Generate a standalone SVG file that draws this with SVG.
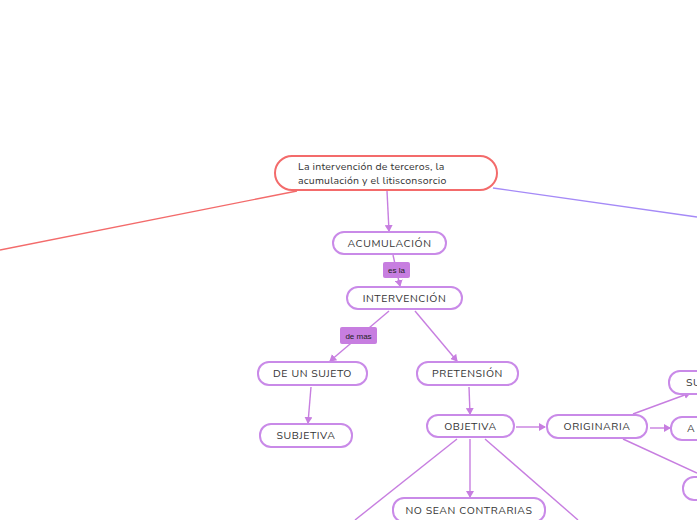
<svg xmlns="http://www.w3.org/2000/svg" width="697" height="520" viewBox="0 0 697 520">
<style>
.n{fill:#fff;stroke:#c98ae8;stroke-width:2}
.t{font-family:"Nunito","Liberation Sans",sans-serif;font-size:10.5px;fill:#333;letter-spacing:0.6px;text-anchor:middle}
.c{stroke:#c77ee0;stroke-width:1.4;fill:none}
.lb{fill:#c77ee0}
.lt{font-family:"Liberation Sans",sans-serif;font-size:8px;fill:#222;text-anchor:middle}
</style>
<defs><marker id="a" markerWidth="8" markerHeight="8" refX="6" refY="4" orient="auto" markerUnits="userSpaceOnUse"><path d="M0,0 L7,4 L0,8 Z" fill="#c77ee0"/></marker></defs>
<rect width="697" height="520" fill="#fff"/>
<g id="connectors">
<line x1="297" y1="191" x2="0" y2="250" stroke="#f36b6b" stroke-width="1.4"/>
<line x1="493" y1="188" x2="697" y2="217" stroke="#a58af7" stroke-width="1.4"/>
<line class="c" x1="387" y1="191" x2="389" y2="231" marker-end="url(#a)"/>
<line class="c" x1="393" y1="255" x2="400" y2="286" marker-end="url(#a)"/>
<line class="c" x1="389" y1="311" x2="330" y2="361" marker-end="url(#a)"/>
<line class="c" x1="415" y1="311" x2="457" y2="361" marker-end="url(#a)"/>
<line class="c" x1="311" y1="387" x2="308" y2="423" marker-end="url(#a)"/>
<line class="c" x1="469" y1="387" x2="470" y2="414" marker-end="url(#a)"/>
<line class="c" x1="516" y1="427" x2="545" y2="427" marker-end="url(#a)"/>
<line class="c" x1="633" y1="414" x2="690" y2="393" marker-end="url(#a)"/>
<line class="c" x1="650" y1="428" x2="670" y2="428" marker-end="url(#a)"/>
<line class="c" x1="623" y1="439" x2="697" y2="473"/>
<line class="c" x1="470" y1="439" x2="470" y2="497" marker-end="url(#a)"/>
<line class="c" x1="457" y1="439" x2="355" y2="520"/>
<line class="c" x1="485" y1="439" x2="578" y2="520"/>
</g>
<g id="root"><rect x="275" y="156" width="222" height="34" rx="17" fill="#fff" stroke="#f36b6b" stroke-width="2"/>
<text class="t" x="298" y="170" style="text-anchor:start;letter-spacing:0.2px">La intervención de terceros, la</text>
<text class="t" x="298" y="184" style="text-anchor:start;letter-spacing:0.2px">acumulación y el litisconsorcio</text></g>
<g id="acumulacion"><rect class="n" x="333" y="232" width="113" height="22" rx="11"/><text class="t" x="389.5" y="247">ACUMULACIÓN</text></g>
<g id="esla"><rect class="lb" x="383" y="262" width="27" height="16" rx="2"/><text class="lt" x="396.5" y="273">es la</text></g>
<g id="intervencion"><rect class="n" x="347" y="287" width="115" height="22" rx="11"/><text class="t" x="404.5" y="302">INTERVENCIÓN</text></g>
<g id="demas"><rect class="lb" x="340" y="327" width="37" height="17" rx="2"/><text class="lt" x="358.5" y="339">de mas</text></g>
<g id="desujeto"><rect class="n" x="258" y="362" width="109" height="23" rx="11"/><text class="t" x="312.5" y="377">DE UN SUJETO</text></g>
<g id="pretension"><rect class="n" x="417" y="362" width="101" height="23" rx="11"/><text class="t" x="467.5" y="377">PRETENSIÓN</text></g>
<g id="subjetiva"><rect class="n" x="260" y="424" width="92" height="23" rx="11"/><text class="t" x="306" y="439">SUBJETIVA</text></g>
<g id="objetiva"><rect class="n" x="427" y="415" width="87" height="22" rx="11"/><text class="t" x="470.5" y="430">OBJETIVA</text></g>
<g id="originaria"><rect class="n" x="547" y="415" width="100" height="23" rx="11"/><text class="t" x="597" y="430">ORIGINARIA</text></g>
<g id="su"><rect class="n" x="669" y="371" width="60" height="23" rx="11"/><text class="t" x="686" y="386" style="text-anchor:start">SU</text></g>
<g id="a2"><rect class="n" x="671" y="417" width="60" height="23" rx="11"/><text class="t" x="687" y="432" style="text-anchor:start">A</text></g>
<g id="n3"><rect class="n" x="683" y="477" width="60" height="23" rx="11"/></g>
<g id="nosean"><rect class="n" x="393" y="498" width="152" height="24" rx="11"/><text class="t" x="469" y="514">NO SEAN CONTRARIAS</text></g>
</svg>
